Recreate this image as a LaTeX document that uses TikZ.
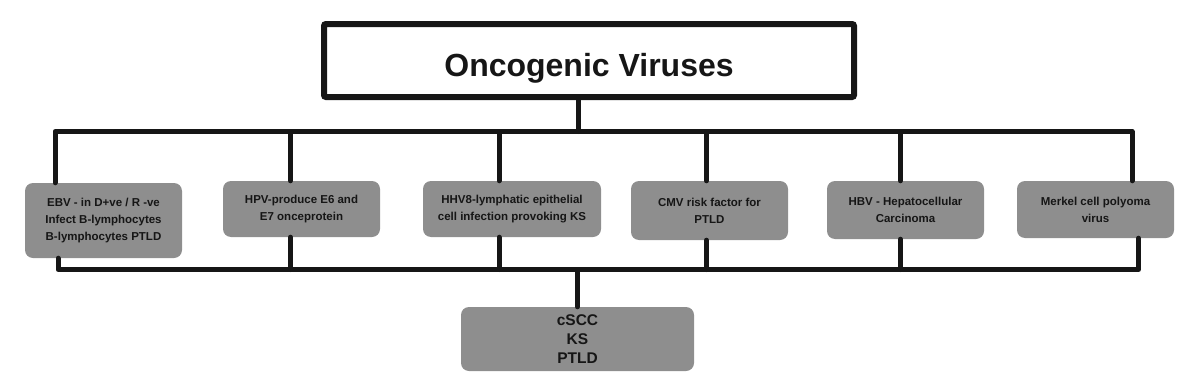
\documentclass[tikz,border=0pt]{standalone}
\usepackage{fontspec}
\setmainfont{Liberation Sans}
\definecolor{boxgray}{RGB}{142,142,142}
\definecolor{ink}{RGB}{22,22,22}
\begin{document}
\begin{tikzpicture}[x=1pt,y=-1pt, every node/.style={font=\bfseries\fontsize{11.5}{17}\selectfont,text=ink},
  virus/.style={fill=boxgray,rounded corners=8pt,align=center,inner sep=0pt,minimum width=157pt},
  bus/.style={line width=5pt,draw=ink,line join=round,line cap=round}]
\useasboundingbox (0,0) rectangle (1200,388);
\node[draw=ink,line width=6pt,rounded corners=2pt,minimum width=530pt,minimum height=73pt,inner sep=0pt,
  text height=32pt,text depth=0pt,font=\bfseries\fontsize{32}{38}\selectfont] (title) at (589,60.5) {Oncogenic Viruses};
% virus boxes
\node[virus,minimum height=75pt] (ebv) at (103.5,220.5) {EBV - in D+ve / R -ve\\Infect B-lymphocytes\\B-lymphocytes PTLD};
\node[virus,minimum height=56pt] (hpv) at (301.5,209) {HPV-produce E6 and\\E7 onceprotein};
\node[virus,minimum width=178pt,minimum height=56pt] (hhv) at (512,209) {HHV8-lymphatic epithelial\\cell infection provoking KS};
\node[virus,minimum height=59pt] (cmv) at (709.5,210.5) {CMV risk factor for\\PTLD};
\node[virus,minimum height=58pt] (hbv) at (905.5,210) {HBV - Hepatocellular\\Carcinoma};
\node[virus,minimum height=57pt] (merkel) at (1095.5,209.5) {Merkel cell polyoma\\virus};
\node[virus,minimum width=233pt,minimum height=64pt,font=\bfseries\fontsize{15.5}{19}\selectfont] (res) at (577.5,339) {cSCC\\KS\\PTLD};
% buses
\coordinate (tl) at (55,131.5);
\coordinate (tr) at (1132,131.5);
\coordinate (bl) at (58,269.5);
\coordinate (br) at (1138.5,269.5);
\draw[bus] (ebv.north -| tl) |- (tr) -- (merkel.north -| tr);
\draw[bus] (ebv.south -| bl) |- (br) -- (merkel.south -| br);
\draw[bus] ([xshift=-11pt]title.south) -- ([xshift=-11pt]title.south |- tl);
\draw[bus] (res.north) -- (res.north |- bl);
\foreach \b/\s in {hpv/-11,hhv/-13,cmv/-3,hbv/-5}{
  \draw[bus] ([xshift=\s pt]\b.north) -- ([xshift=\s pt]\b.north |- tl);
  \draw[bus] ([xshift=\s pt]\b.south) -- ([xshift=\s pt]\b.south |- bl);
}
\end{tikzpicture}
\end{document}
